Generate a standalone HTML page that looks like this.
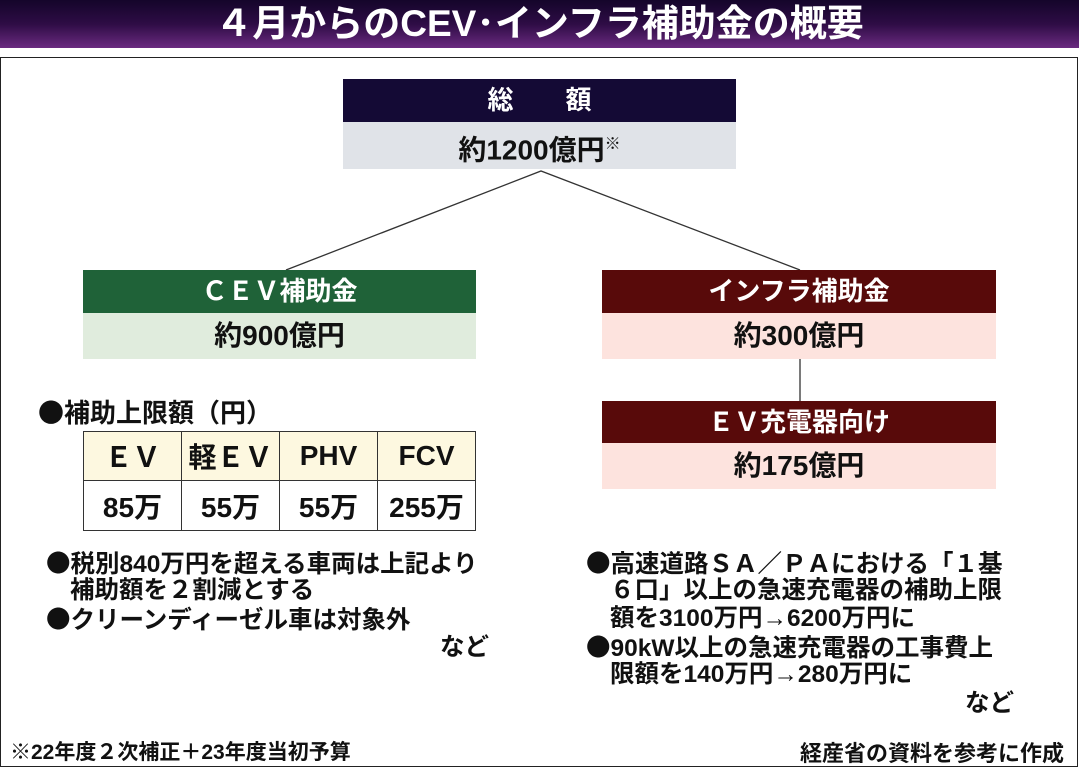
<!DOCTYPE html>
<html><head><meta charset="utf-8"><style>
*{margin:0;padding:0;box-sizing:border-box}
body{width:1079px;height:770px;background:#fff;position:relative;overflow:hidden;font-family:"Liberation Sans","Noto Sans CJK JP",sans-serif;font-weight:bold;color:#111}
.a{position:absolute;white-space:nowrap}
.title{left:0;top:0;width:1079px;height:48px;background:linear-gradient(#14052a,#2e0c45 50%,#6a2a80);color:#fff;font-size:37px;text-align:center;line-height:48px}
.frame{left:0;top:57px;width:1078px;height:710px;border:1.5px solid #222}
.hd{color:#fff;font-size:26px;text-align:center;line-height:43px}
.bd{font-size:28px;text-align:center;line-height:46px}
.c{display:inline-block;transform:scaleX(.85)}
table{position:absolute;left:83px;top:431px;border-collapse:collapse}
td{border:1.5px solid #333;width:98px;text-align:center;font-size:28px}
.t{font-size:24.5px;line-height:28px}
.b{font-family:"Noto Sans CJK JP",sans-serif}
</style></head><body>
<div class="a title">４月からのCEV･インフラ補助金の概要</div>
<div class="a frame"></div>
<svg class="a" style="left:0;top:0" width="1079" height="770"><polyline points="286,270 541,171 800,270" fill="none" stroke="#333" stroke-width="1.3"/><line x1="800" y1="359" x2="800" y2="401" stroke="#333" stroke-width="1.3"/></svg>
<div class="a hd" style="left:343px;top:79px;width:393px;height:43px;background:#140a35">総　　額</div>
<div class="a bd" style="left:343px;top:122px;width:393px;height:47px;background:#e0e3e8">約1200億円<sup style="font-size:16px">※</sup></div>
<div class="a hd" style="left:83px;top:270px;width:393px;height:43px;background:#1f6238">ＣＥＶ補助金</div>
<div class="a bd" style="left:83px;top:313px;width:393px;height:46px;background:#e0ecdd">約900億円</div>
<div class="a hd" style="left:602px;top:270px;width:394px;height:43px;background:#580a0a">インフラ補助金</div>
<div class="a bd" style="left:602px;top:313px;width:394px;height:46px;background:#fde3de">約300億円</div>
<div class="a hd" style="left:602px;top:401px;width:394px;height:42px;background:#580a0a">ＥＶ充電器向け</div>
<div class="a bd" style="left:602px;top:443px;width:394px;height:46px;background:#fde3de">約175億円</div>
<div class="a" style="left:38px;top:393px;font-size:26px"><span class="b">●</span>補助上限額（円）</div>
<table><tr style="height:49px;background:#fdf8e0"><td>ＥＶ</td><td>軽ＥＶ</td><td>PHV</td><td>FCV</td></tr>
<tr style="height:50px"><td>85万</td><td>55万</td><td>55万</td><td>255万</td></tr></table>
<div class="a t" style="left:46px;top:549px"><span class="b">●</span>税別840万円を超える車両は上記より</div>
<div class="a t" style="left:70px;top:577px">補助額を２割減とする</div>
<div class="a t" style="left:46px;top:605px"><span class="b">●</span>クリーンディーゼル車は対象外</div>
<div class="a t" style="left:440px;top:634px">など</div>
<div class="a t" style="left:586px;top:549px"><span class="b">●</span>高速道路ＳＡ／ＰＡにおける「１基</div>
<div class="a t" style="left:610px;top:577px">６口」以上の急速充電器の補助上限</div>
<div class="a t" style="left:610px;top:605px">額を3100万円→6200万円に</div>
<div class="a t" style="left:586px;top:633px"><span class="b">●</span>90kW以上の急速充電器の工事費上</div>
<div class="a t" style="left:610px;top:661px">限額を140万円→280万円に</div>
<div class="a t" style="left:965px;top:690px">など</div>
<div class="a" style="left:10px;top:736px;font-size:21px">※22年度２次補正＋23年度当初予算</div>
<div class="a" style="left:800px;top:736px;font-size:22px">経産省の資料を参考に作成</div>
</body></html>
